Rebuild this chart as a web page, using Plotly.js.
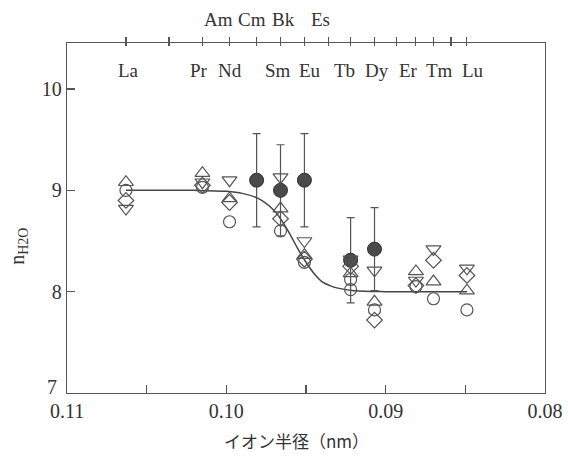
<!DOCTYPE html>
<html><head><meta charset="utf-8">
<script src="https://cdn.plot.ly/plotly-3.0.1.min.js"></script>
<style>html,body{margin:0;padding:0;background:#fff}#c{width:571px;height:459px}</style>
</head><body><div id="c"></div>
<script>
const lnNames = ['La','Ce','Pr','Nd','Pm','Sm','Eu','Gd','Tb','Dy','Ho','Er','Tm','Yb','Lu'];
const lnRadii = [0.1063,0.1036,0.1015,0.0998,0.0981,0.0966,0.0951,0.0936,0.0922,0.0907,0.0893,0.0881,0.0870,0.0859,0.0849];
const lnLabels = ['La','Pr','Nd','Sm','Eu','Tb','Dy','Er','Tm','Lu'];
const acLabels = ['Am','Cm','Bk','Es'];
const acLabelX = [0.1005,0.0984,0.0964,0.0941];

// open-symbol series (x = element radius)
const openX = [0.1063,0.1015,0.0998,0.0966,0.0951,0.0922,0.0907,0.0881,0.0870,0.0849];
const circleX = [0.1063,0.1015,0.0998,0.0966,0.0951,0.0922,0.0922,0.0907,0.0881,0.0870,0.0849];
const circleY = [9.00,9.03,8.69,8.60,8.29,8.12,8.02,7.82,8.05,7.93,7.82];
const triUpY  = [9.08,9.17,8.92,8.82,8.36,8.18,7.90,8.20,8.10,8.01];
const triDnY  = [8.82,9.08,9.10,9.13,8.50,8.32,8.21,8.11,8.42,8.23];
const diamY   = [8.90,9.05,8.88,8.72,8.32,8.25,7.72,8.06,8.31,8.16];

// filled circles with error bars
const filledX = [0.0981,0.0966,0.0951,0.0922,0.0907];
const filledY = [9.10,9.00,9.10,8.31,8.42];
const filledErr = [0.46,0.45,0.46,0.42,0.41];

// fitted curve
const curveX = [0.1063,0.1040,0.1020,0.1000,0.0990,0.0980,0.0970,0.0962,0.0955,0.0950,0.0945,0.0940,0.0935,0.0930,0.0920,0.0900,0.0880,0.0849];
const curveY = [9.00,9.00,9.00,8.99,8.97,8.92,8.80,8.62,8.42,8.29,8.18,8.10,8.06,8.035,8.01,8.00,8.00,8.00];

const xTickVals = [0.11,0.105,0.10,0.095,0.09,0.085,0.08];
const xTickText = ['0.11','','0.10','','0.09','','0.08'];
const yTickVals = [7,8,9,10];
const yTickText = ['','8','9','10'];

const ink = '#555';
const txt = '#333';
const serif = 'Times New Roman, Liberation Serif, serif';
const cjk = 'Noto Sans CJK JP';
const lnShift = {La: 3, Pr: -3, Nd: 0, Sm: -3, Eu: 6, Tb: -6, Dy: 2, Er: -7, Tm: 6, Lu: 6};

const openMarker = (sym, size) => ({symbol: sym, size: size, color: ink, line: {color: ink, width: 1.2}});

const traces = [
  {x: curveX, y: curveY, mode: 'lines', line: {color: '#444', width: 1.5, shape: 'spline'}, hoverinfo: 'skip'},
  {x: filledX, y: filledY, mode: 'markers',
   marker: {symbol: 'circle', size: 14, color: '#4a4a4a', line: {color: '#333', width: 1}},
   error_y: {type: 'data', array: filledErr, visible: true, color: ink, thickness: 1.2, width: 4}},
  {x: circleX, y: circleY, mode: 'markers', marker: openMarker('circle-open', 12)},
  {x: openX, y: triUpY, mode: 'markers', marker: openMarker('triangle-up-open', 13)},
  {x: openX, y: triDnY, mode: 'markers', marker: openMarker('triangle-down-open', 13)},
  {x: openX, y: diamY, mode: 'markers', marker: openMarker('diamond-open', 12)},
  {x: [lnRadii[0]], y: [9], xaxis: 'x2', mode: 'markers', marker: {opacity: 0}, hoverinfo: 'skip'},
  {x: [lnRadii[0]], y: [9], xaxis: 'x3', mode: 'markers', marker: {opacity: 0}, hoverinfo: 'skip'}
];

const annotations = [];
lnLabels.forEach(n => {
  annotations.push({x: lnRadii[lnNames.indexOf(n)], y: 0.92, xref: 'x', yref: 'paper', text: n, showarrow: false,
    xshift: lnShift[n], font: {family: serif, size: 19, color: txt}, xanchor: 'center', yanchor: 'middle'});
});
acLabels.forEach((n, i) => {
  annotations.push({x: acLabelX[i], y: 1.066, xref: 'x', yref: 'paper', text: n, showarrow: false,
    font: {family: serif, size: 19, color: txt}, xanchor: 'center', yanchor: 'middle'});
});
annotations.push({x: 0.11, y: 7, xref: 'x', yref: 'y', text: '7', showarrow: false, xshift: -15, yshift: 6,
  font: {family: serif, size: 20, color: txt}, xanchor: 'center', yanchor: 'middle'});
annotations.push({x: -0.103, y: 0.42, xref: 'paper', yref: 'paper', text: 'n<sub>H2O</sub>', textangle: -90,
  showarrow: false, font: {family: serif, size: 20, color: txt}, xanchor: 'center', yanchor: 'middle'});
annotations.push({x: 0.48, y: -0.137, xref: 'paper', yref: 'paper', text: 'イオン半径（nm）',
  showarrow: false, font: {family: cjk, size: 17, color: txt}, xanchor: 'center', yanchor: 'middle'});

const layout = {
  width: 571, height: 459,
  margin: {l: 67, r: 26, t: 43, b: 66},
  paper_bgcolor: '#fff', plot_bgcolor: '#fff',
  showlegend: false,
  font: {family: serif, size: 19, color: txt},
  xaxis: {range: [0.11, 0.08], tickvals: xTickVals, ticktext: xTickText, ticks: 'inside', ticklen: 8,
    tickcolor: ink, tickwidth: 1.2, showline: true, linecolor: ink, linewidth: 1.3, showgrid: false, zeroline: false,
    tickfont: {family: serif, size: 20, color: txt}},
  xaxis2: {overlaying: 'x', side: 'top', range: [0.11, 0.08], tickvals: lnRadii, ticktext: lnRadii.map(() => ''),
    ticks: 'outside', ticklen: 5, tickcolor: ink, tickwidth: 1.1, showline: true, linecolor: ink, linewidth: 1.3,
    showgrid: false, zeroline: false},
  xaxis3: {overlaying: 'x', side: 'top', range: [0.11, 0.08], tickvals: lnRadii, ticktext: lnRadii.map(() => ''),
    ticks: 'inside', ticklen: 3, tickcolor: ink, tickwidth: 1.1, showline: false, showgrid: false, zeroline: false},
  yaxis: {range: [7, 10.454], tickvals: yTickVals, ticktext: yTickText, ticks: 'inside', ticklen: 8, tickcolor: ink, tickwidth: 1.2,
    showline: true, mirror: true, linecolor: ink, linewidth: 1.3, showgrid: false, zeroline: false,
    tickfont: {family: serif, size: 20, color: txt}},
  annotations: annotations
};

Plotly.newPlot('c', traces, layout, {staticPlot: true});
</script></body></html>
